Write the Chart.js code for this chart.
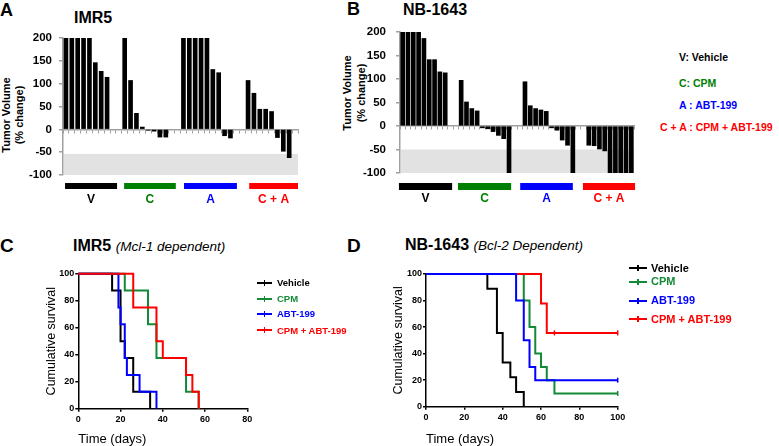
<!DOCTYPE html>
<html>
<head>
<meta charset="utf-8">
<script src="https://cdn.jsdelivr.net/npm/chart.js@4.4.1/dist/chart.umd.min.js"></script>
<style>
  body { margin: 0; width: 779px; height: 446px; position: relative; overflow: hidden; background: #fff;
         font-family: "Liberation Sans", Arial, sans-serif; color: #000; }
  canvas { position: absolute; }
  .t { position: absolute; white-space: nowrap; line-height: 1; font-weight: bold; }
  .rot { position: absolute; transform: translate(-50%, -50%) rotate(-90deg); text-align: center;
         font-weight: bold; font-size: 11px; white-space: nowrap; }
  .ln { position: absolute; height: 2px; }
  .ln i { position: absolute; left: 50%; top: -2px; width: 1.5px; height: 6px; margin-left: -0.75px; background: inherit; }
  .narrow { font-family: "Liberation Sans Narrow", "Arial Narrow", "Liberation Sans", Arial, sans-serif; }
</style>
</head>
<body>

<!-- panel letters and titles -->
<div class="t" style="left:0;top:1px;font-size:18px">A</div>
<div class="t" style="left:74px;top:9.5px;font-size:16px">IMR5</div>
<div class="t" style="left:347px;top:0;font-size:18px">B</div>
<div class="t" style="left:403px;top:1.5px;font-size:16px">NB-1643</div>
<div class="t" style="left:0;top:236px;font-size:19px">C</div>
<div class="t" style="left:347px;top:236px;font-size:19px">D</div>
<div class="t" style="left:73px;top:238px;font-size:16px">IMR5 <i style="font-weight:normal;font-size:13.5px">(Mcl-1 dependent)</i></div>
<div class="t" style="left:405px;top:237px;font-size:16px">NB-1643 <i style="font-weight:normal;font-size:13.5px">(Bcl-2 Dependent)</i></div>

<!-- y titles of the waterfall plots -->
<div class="rot" style="left:11.5px;top:115px;line-height:12.5px">Tumor Volume<br>(% change)</div>
<div class="rot" style="left:353.5px;top:93px;line-height:14px">Tumor Volume<br>(% change)</div>

<!-- group key -->
<div class="t" style="left:679px;top:51.5px;font-size:10.5px">V: Vehicle</div>
<div class="t" style="left:679px;top:77.5px;font-size:10.5px;color:#008000">C: CPM</div>
<div class="t" style="left:679px;top:99.5px;font-size:10.5px;color:#0000ff">A : ABT-199</div>
<div class="t" style="left:660px;top:122px;font-size:10.5px;color:#ff0000">C + A : CPM + ABT-199</div>

<canvas id="ca" width="302" height="195" style="left:0;top:20px"></canvas>
<canvas id="cb" width="307" height="195" style="left:330px;top:15px"></canvas>
<canvas id="cc" width="225" height="181" style="left:40px;top:265px"></canvas>
<canvas id="cd" width="255" height="181" style="left:385px;top:265px"></canvas>

<!-- legend C -->
<div class="ln" style="left:257px;top:281.7px;width:15px;background:#000"><i></i></div>
<div class="ln" style="left:257px;top:297.7px;width:15px;background:#138a36"><i></i></div>
<div class="ln" style="left:257px;top:312.7px;width:15px;background:#0000ff"><i></i></div>
<div class="ln" style="left:257px;top:329.3px;width:15px;background:#ff0000"><i></i></div>
<div class="t narrow" style="left:277px;top:278px;font-size:9.5px">Vehicle</div>
<div class="t narrow" style="left:277px;top:294px;font-size:9.5px;color:#138a36">CPM</div>
<div class="t narrow" style="left:277px;top:309px;font-size:9.5px;color:#0000ff">ABT-199</div>
<div class="t narrow" style="left:277px;top:325.5px;font-size:9.5px;color:#ff0000">CPM + ABT-199</div>

<!-- legend D -->
<div class="ln" style="left:629px;top:267.3px;width:18px;background:#000"><i></i></div>
<div class="ln" style="left:629px;top:280.7px;width:18px;background:#138a36"><i></i></div>
<div class="ln" style="left:629px;top:299.7px;width:18px;background:#0000ff"><i></i></div>
<div class="ln" style="left:629px;top:318.3px;width:18px;background:#ff0000"><i></i></div>
<div class="t" style="left:651px;top:262.5px;font-size:11px">Vehicle</div>
<div class="t" style="left:651px;top:276px;font-size:11px;color:#138a36">CPM</div>
<div class="t" style="left:651px;top:295px;font-size:11px;color:#0000ff">ABT-199</div>
<div class="t" style="left:651px;top:313.5px;font-size:11px;color:#ff0000">CPM + ABT-199</div>

<script>
// ---- waterfall data (% change in tumor volume, one bar per tumor) ----
const groupLabels = ['V', 'C', 'A', 'C + A'];
const groupColors = ['#000000', '#008000', '#0000ff', '#ff0000'];

const imr5Vehicle = [200, 200, 200, 200, 200, 146, 127, 114];
const imr5Cpm = [200, 107, 35, 5, -2, -4, -17, -17];
const imr5Abt = [200, 200, 200, 200, 200, 131, 124, -14, -19];
const imr5Combo = [107, 79, 44, 44, 39, -18, -48, -62];
const imr5Start = [0, 10, 20, 31];   // first slot of each group
const imr5Slots = 40;

const nbVehicle = [200, 200, 200, 200, 186, 141, 141, 115, 113];
const nbCpm = [97, 51, 37, 32, -4, -6, -12, -20, -27, -100];
const nbAbt = [94, 43, 37, 34, 31, -4, -9, -30, -41, -100];
const nbCombo = [-41, -42, -49, -53, -100, -100, -100, -100, -100];
const nbStart = [0, 11, 23, 35];
const nbSlots = 44;

const volTicks = [-100, -50, 0, 50, 100, 150, 200];

// ---- survival data: [day, % surviving] ----
const imr5SurvVehicle = [[0, 100], [16, 87.5], [20, 50], [22, 37.5], [26, 12.5], [34, 0]];
const imr5SurvCpm = [[0, 100], [22, 87.5], [33, 62.5], [37, 37.5], [51, 12.5], [57, 0]];
const imr5SurvAbt = [[0, 100], [19, 75], [20, 62.5], [22, 37.5], [23, 25], [29, 12.5], [37, 0]];
const imr5SurvCombo = [[0, 100], [26, 75], [37, 50], [40, 37.5], [51, 25], [54, 12.5], [57, 0]];

const nbSurvVehicle = [[0, 100], [32, 88.9], [37, 55.6], [40, 33.3], [44, 22.2], [47, 11.1], [51, 0]];
const nbSurvCpm = [[0, 100], [51, 80], [54, 60], [57, 40], [60, 30], [63, 20], [67, 10], [100, 10]];
const nbSurvAbt = [[0, 100], [47, 80], [51, 50], [54, 30], [57, 20], [100, 20]];
const nbSurvCombo = [[0, 100], [60, 77.8], [63, 55.6], [67, 55.6], [100, 55.6]];
const nbCensorCpm = [100];
const nbCensorAbt = [100];
const nbCensorCombo = [67, 100];

Chart.defaults.font.family = '"Liberation Sans", Arial, sans-serif';
Chart.defaults.color = '#000';

function buildWaterfall(groups, starts, n) {
  const out = new Array(n).fill(null);
  groups.forEach((g, i) => g.forEach((v, j) => { out[starts[i] + j] = v; }));
  return out;
}

// grey "non-responder cut-off" band behind the bars
const shadePlugin = {
  id: 'shade',
  beforeDraw(chart, args, opts) {
    const {ctx, chartArea, scales: {y}} = chart;
    const top = y.getPixelForValue(opts.from);
    const bottom = y.getPixelForValue(opts.to);
    ctx.save();
    ctx.fillStyle = '#e2e2e2';
    ctx.fillRect(chartArea.left + 1, top, chartArea.right - chartArea.left - 1, bottom - top);
    ctx.restore();
  }
};

// coloured group bars and labels under the waterfall
const groupPlugin = {
  id: 'groups',
  afterDraw(chart, args, opts) {
    const {ctx, chartArea, scales: {x}} = chart;
    const slot = x.width / chart.data.labels.length;
    ctx.save();
    ctx.font = 'bold 12px "Liberation Sans", Arial, sans-serif';
    ctx.textAlign = 'center';
    ctx.textBaseline = 'middle';
    opts.spans.forEach((s, i) => {
      const x0 = x.left + s[0] * slot;
      const x1 = x.left + s[1] * slot;
      ctx.fillStyle = groupColors[i];
      ctx.fillRect(x0, chartArea.bottom + opts.gap, x1 - x0, opts.height);
      ctx.fillText(groupLabels[i], (x0 + x1) / 2, chartArea.bottom + opts.labelY);
    });
    ctx.restore();
  }
};

function waterfall(id, values, yWidth, pad, tickPad, shadeFrom, groupOpts) {
  return new Chart(document.getElementById(id), {
    type: 'bar',
    data: {
      labels: values.map((v, i) => String(i)),
      datasets: [{ data: values, backgroundColor: '#000', barThickness: 4 }]
    },
    options: {
      responsive: false,
      animation: false,
      layout: { padding: pad },
      plugins: {
        legend: { display: false },
        tooltip: { enabled: false },
        shade: { from: shadeFrom, to: -100 },
        groups: groupOpts
      },
      scales: {
        x: {
          position: { y: 0 },
          offset: true,
          grid: { offset: true, drawOnChartArea: false, tickLength: 3, color: '#a0a0a0', lineWidth: 1 },
          border: { color: '#a0a0a0', width: 1.5 },
          ticks: { display: false }
        },
        y: {
          min: -100,
          max: 200,
          afterFit(s) { s.width = yWidth; },
          afterBuildTicks(s) { s.ticks = volTicks.map(v => ({ value: v })); },
          ticks: { font: { size: 11.5, weight: 'bold' }, padding: tickPad },
          grid: { drawOnChartArea: false, tickLength: 4, color: '#a0a0a0', lineWidth: 1.5 },
          border: { color: '#a0a0a0', width: 1.5 }
        }
      }
    },
    plugins: [shadePlugin, groupPlugin]
  });
}

waterfall('ca', buildWaterfall([imr5Vehicle, imr5Cpm, imr5Abt, imr5Combo], imr5Start, imr5Slots),
  63, { top: 18, right: 4, bottom: 40, left: 0 }, 7, -54,
  { spans: [[0.35, 9.2], [10.4, 19.2], [20.6, 29.6], [31.7, 40]], gap: 8, height: 6, labelY: 25 });

waterfall('cb', buildWaterfall([nbVehicle, nbCpm, nbAbt, nbCombo], nbStart, nbSlots),
  70, { top: 15, right: 3, bottom: 37, left: 0 }, 10, -50,
  { spans: [[-0.2, 9.8], [10.9, 20.9], [22.6, 32.5], [34.4, 44.2]], gap: 10, height: 7, labelY: 26 });

// ---- Kaplan-Meier plots ----
const narrowFont = '"Liberation Sans Narrow", "Arial Narrow", "Liberation Sans", Arial, sans-serif';

function kmSet(points, color, order, censored) {
  const cens = censored || [];
  return {
    data: points.map(p => ({ x: p[0], y: p[1] })),
    borderColor: color,
    backgroundColor: color,
    borderWidth: 2,
    stepped: 'before',
    order: order,
    clip: false,
    pointStyle: 'line',
    rotation: 90,
    pointRadius: c => (c.dataIndex > 0 && cens.includes(points[c.dataIndex][0]) ? 2.5 : 0),
    pointBorderWidth: 1.5,
    pointBorderColor: color
  };
}

function kmChart(id, datasets, xMax, yWidth, xHeight, pad, yTitlePad) {
  return new Chart(document.getElementById(id), {
    type: 'line',
    data: { datasets: datasets },
    options: {
      responsive: false,
      animation: false,
      layout: { padding: pad },
      plugins: { legend: { display: false }, tooltip: { enabled: false } },
      scales: {
        x: {
          type: 'linear',
          min: 0,
          max: xMax,
          afterFit(s) { s.height = xHeight; },
          ticks: { stepSize: 20, maxRotation: 0, padding: 2, font: { family: narrowFont, size: 9, weight: 'bold' } },
          grid: { drawOnChartArea: false, tickLength: 3, color: '#000', lineWidth: 1.5 },
          border: { color: '#000', width: 1.5 },
          title: { display: true, text: 'Time (days)', align: 'start', font: { size: 13, lineHeight: 1 }, padding: { top: 0, bottom: 0 } }
        },
        y: {
          min: 0,
          max: 100,
          afterFit(s) { s.width = yWidth; },
          ticks: { stepSize: 20, padding: 1, font: { family: narrowFont, size: 9, weight: 'bold' } },
          grid: { drawOnChartArea: false, tickLength: 3, color: '#000', lineWidth: 1.5 },
          border: { color: '#000', width: 1.5 },
          title: { display: true, text: 'Cumulative survival', font: { size: 12.5, lineHeight: 1 }, padding: { top: yTitlePad, bottom: 0 } }
        }
      }
    }
  });
}

kmChart('cc', [
  kmSet(imr5SurvVehicle, '#000000', 3),
  kmSet(imr5SurvCpm, '#138a36', 2),
  kmSet(imr5SurvAbt, '#0000ff', 1),
  kmSet(imr5SurvCombo, '#ff0000', 0)
], 80, 38.3, 37.3, { top: 8.7, right: 17.7, bottom: 0, left: 0 }, 5);

kmChart('cd', [
  kmSet(nbSurvVehicle, '#000000', 3),
  kmSet(nbSurvCpm, '#138a36', 2, nbCensorCpm),
  kmSet(nbSurvAbt, '#0000ff', 0, nbCensorAbt),
  kmSet(nbSurvCombo, '#ff0000', 1, nbCensorCombo)
], 100, 41, 39.3, { top: 9, right: 22.3, bottom: 0, left: 0 }, 7);
</script>
</body>
</html>
